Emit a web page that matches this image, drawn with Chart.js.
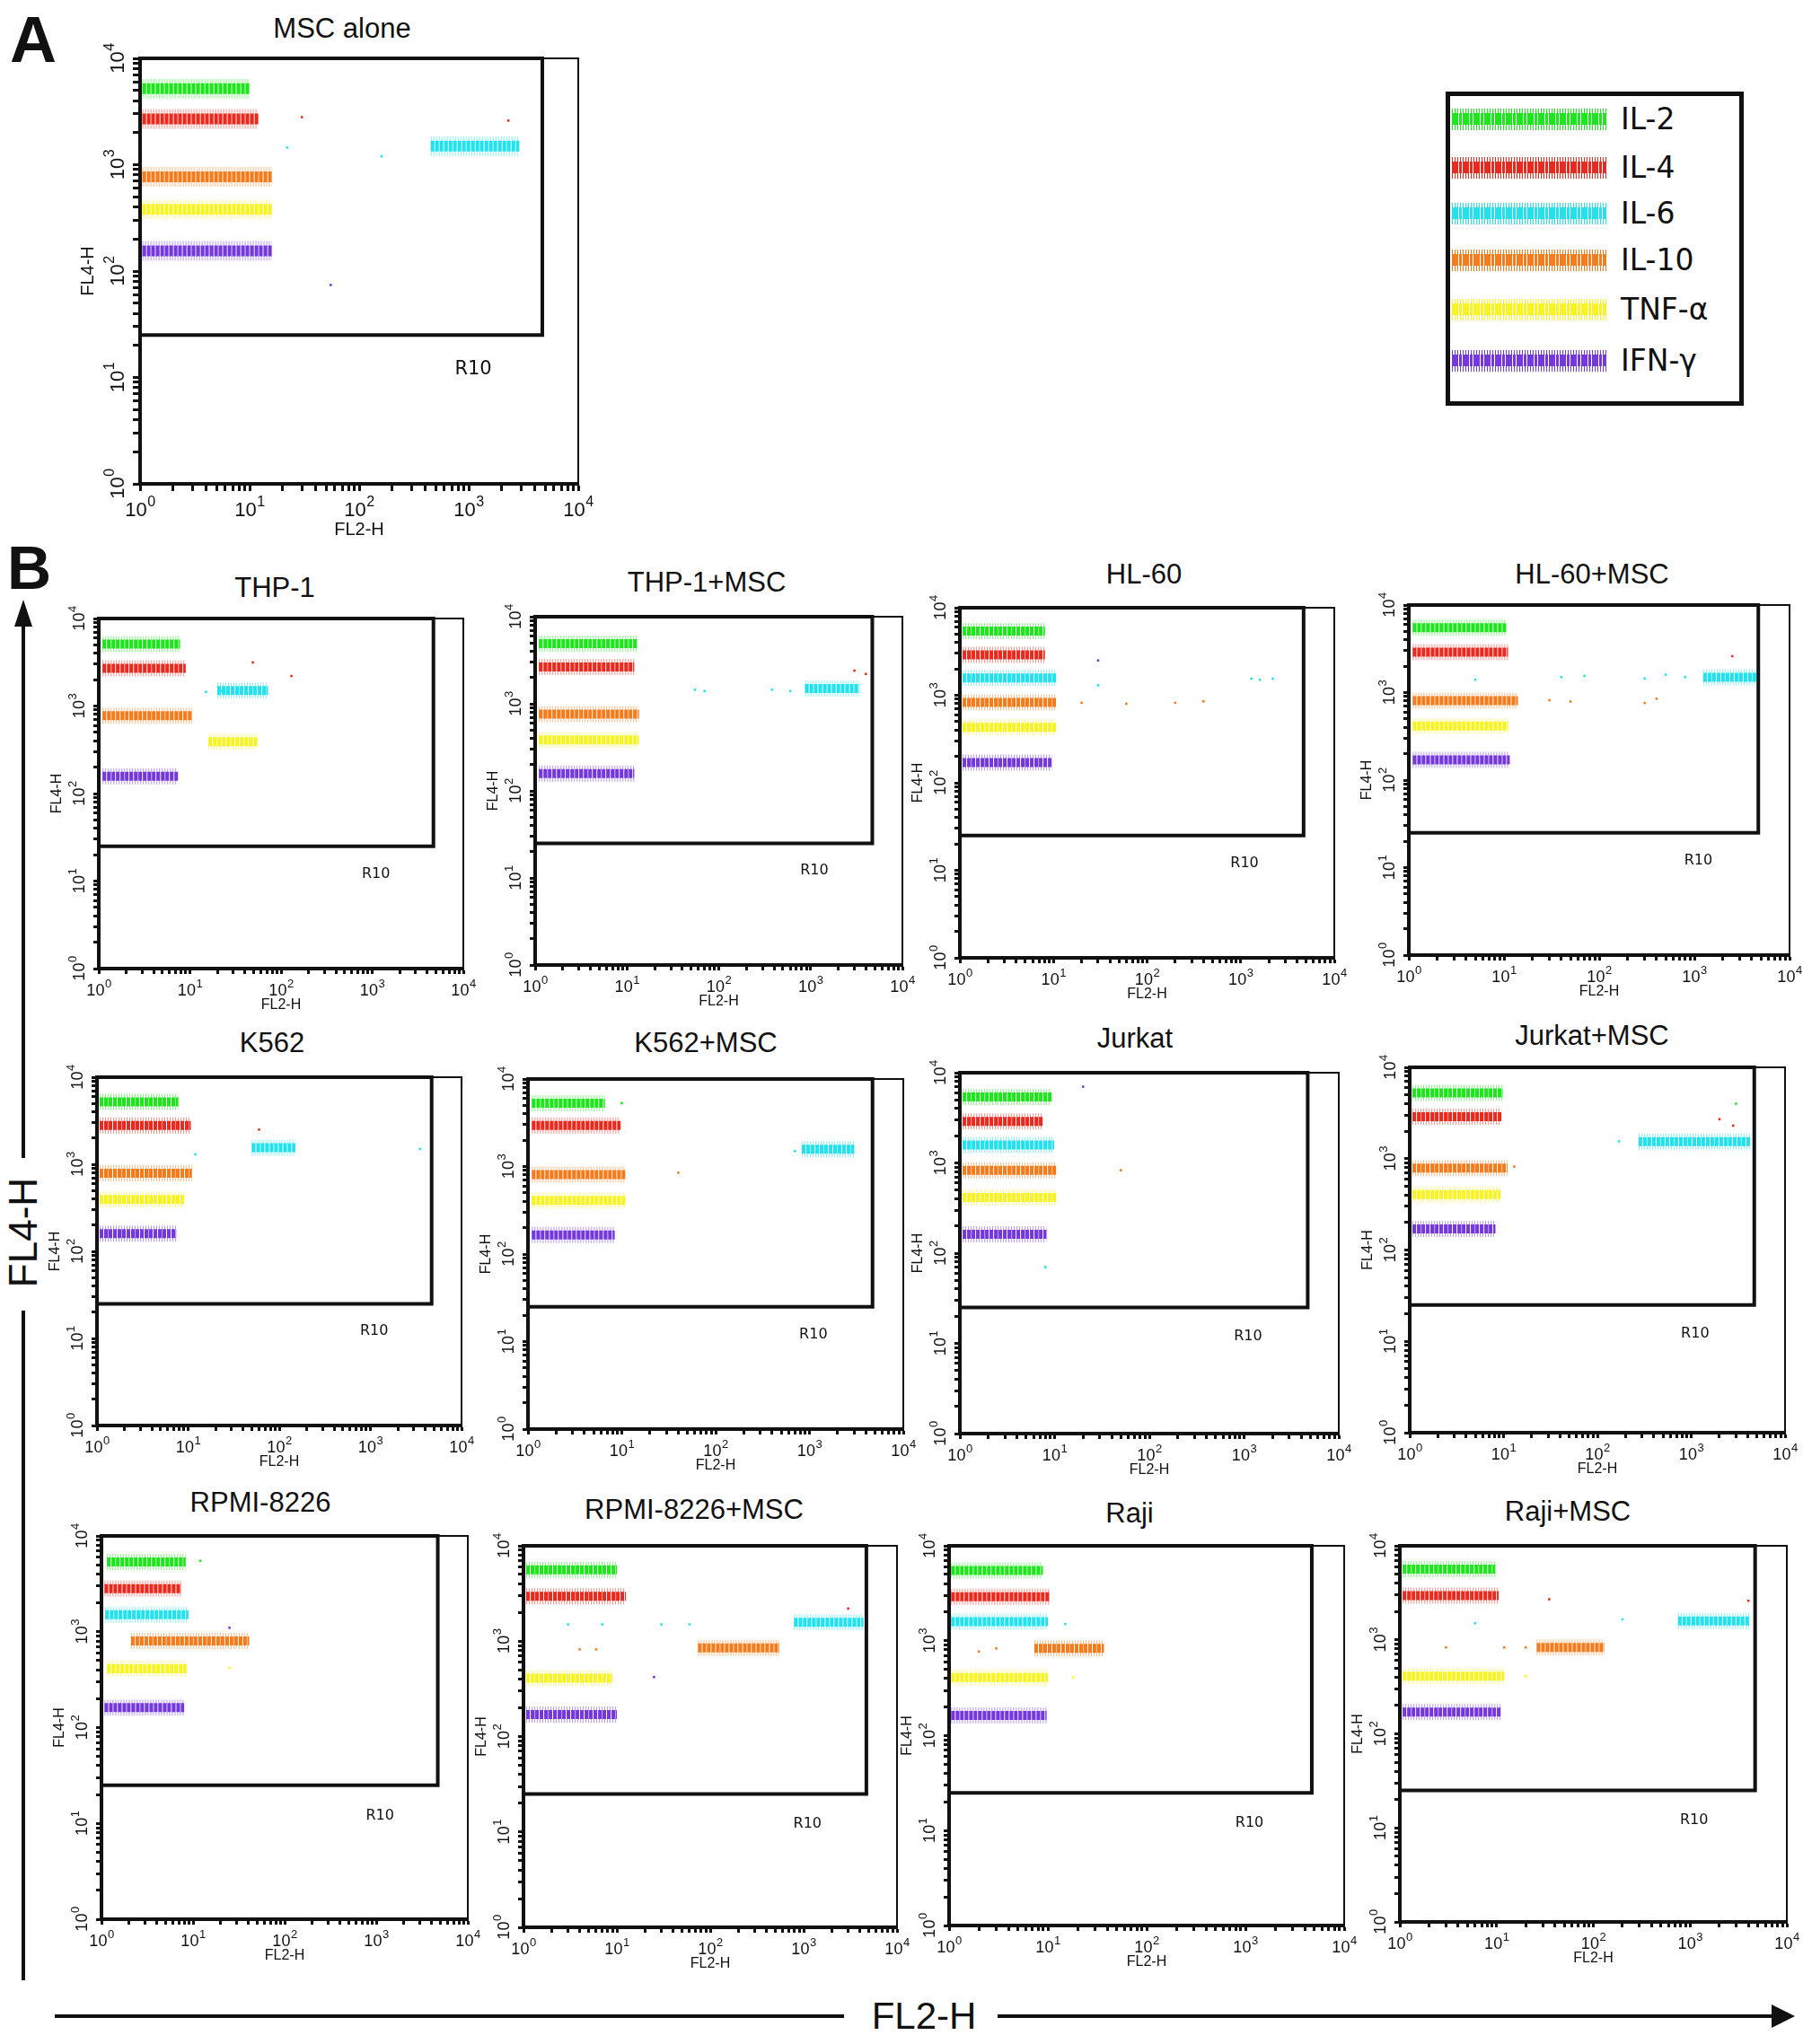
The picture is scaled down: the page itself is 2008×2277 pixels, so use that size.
<!DOCTYPE html>
<html>
<head>
<meta charset="utf-8">
<script src="https://cdn.jsdelivr.net/npm/chart.js@4.4.1/dist/chart.umd.min.js"></script>
<style>
body { margin:0; background:#fff; width:2008px; height:2277px; position:relative; overflow:hidden; font-family:"Liberation Sans", Arial, sans-serif; color:#111; }
canvas { position:absolute; }
.ttl { position:absolute; transform:translate(-50%,-50%); font-size:31px; white-space:nowrap; }
.big { position:absolute; font-weight:bold; font-size:72px; line-height:1; }
#legend { position:absolute; left:1610px; top:102px; width:322px; height:340px; border:5px solid #111; }
#legend .row { position:absolute; left:0; height:40px; width:320px; }
#legend .band { position:absolute; left:2px; top:8px; width:172px; height:24px; }
#legend .lab { position:absolute; left:190px; top:0; font-family:"DejaVu Sans", Verdana, sans-serif; font-size:33px; line-height:40px; }
</style>
</head>
<body>
<div class="big" style="left:11px;top:8px;">A</div>
<div class="big" style="left:8px;top:598px;font-size:68px;">B</div>
<div id="legend"></div>

<svg width="2008" height="2277" style="position:absolute;left:0;top:0;">
  <line x1="26" y1="692" x2="26" y2="1290" stroke="#111" stroke-width="4"/>
  <line x1="26" y1="1460" x2="26" y2="2206" stroke="#111" stroke-width="4"/>
  <polygon points="26,668 16,698 36,698" fill="#111"/>
  <line x1="61" y1="2246" x2="940" y2="2246" stroke="#111" stroke-width="4"/>
  <line x1="1111" y1="2246" x2="1978" y2="2246" stroke="#111" stroke-width="4"/>
  <polygon points="1999,2246 1973,2233 1973,2259" fill="#111"/>
</svg>
<div style="position:absolute;left:26px;top:1373px;transform:translate(-50%,-50%) rotate(-90deg);font-size:44px;white-space:nowrap;">FL4-H</div>
<div style="position:absolute;left:1029px;top:2246px;transform:translate(-50%,-50%);font-size:42px;white-space:nowrap;">FL2-H</div>

<script>
// cytokine beads and their colours
var cytokines = ['IL-2', 'IL-4', 'IL-6', 'IL-10', 'TNF-α', 'IFN-γ'];
var colors = ['#1ee61c', '#ea2a1e', '#22e2ee', '#f47c1c', '#f8f424', '#7438dc'];

// decade ticks of both log axes: 10 to these powers
var tickExponents = ['0', '1', '2', '3', '4'];
var axisMin = 1, axisMax = 10000;

// region R10 and where its name sits
var gateFL2 = [1, 4700];
var gateFL4 = [25, 10000];
var gateLabel = [1100, 12];

// clusters: [FL2-H from, FL2-H to, FL4-H level], order as cytokines
var mscAlone = [[1.05, 10, 5200], [1.05, 12, 2700], [450, 2900, 1500], [1.05, 16, 770], [1.05, 16, 380], [1.05, 16, 155]];
var thp1 = [[1.1, 7.8, 5100], [1.1, 9, 2700], [20, 72, 1500], [1.1, 10.6, 775], [16, 55, 390], [1.1, 7.4, 158]];
var thp1Msc = [[1.1, 13, 4900], [1.1, 12, 2650], [870, 3400, 1500], [1.1, 13.5, 760], [1.1, 13.5, 385], [1.1, 12, 158]];
var hl60 = [[1.07, 8.1, 5400], [1.07, 8.1, 2900], [1.07, 10.7, 1580], [1.07, 10.7, 830], [1.07, 10.7, 430], [1.07, 9.6, 170]];
var hl60Msc = [[1.1, 10.7, 5500], [1.1, 11, 2900], [1240, 4500, 1490], [1.1, 14, 810], [1.1, 11, 415], [1.1, 11.5, 170]];
var k562 = [[1.07, 7.8, 5200], [1.07, 10.7, 2800], [50, 150, 1550], [1.07, 11, 790], [1.07, 9, 395], [1.07, 7.4, 160]];
var k562Msc = [[1.1, 6.6, 5300], [1.1, 9.7, 2950], [830, 3000, 1580], [1.1, 10.9, 810], [1.1, 10.9, 410], [1.1, 8.4, 165]];
var jurkat = [[1.07, 9.3, 5400], [1.07, 7.6, 2880], [1.07, 9.9, 1580], [1.07, 10.6, 830], [1.07, 10.6, 415], [1.07, 8.2, 162]];
var jurkatMsc = [[1.07, 9.8, 5250], [1.07, 9.5, 2880], [275, 4250, 1540], [1.07, 11, 790], [1.07, 9.3, 405], [1.07, 8.2, 170]];
var rpmi = [[1.15, 8.3, 5350], [1.08, 7.4, 2820], [1.1, 8.9, 1510], [2.1, 41, 800], [1.15, 8.5, 410], [1.08, 8, 162]];
var rpmiMsc = [[1.07, 10, 5600], [1.07, 12.5, 2960], [790, 4370, 1580], [74, 550, 850], [1.07, 9, 410], [1.07, 10, 170]];
var raji = [[1.05, 8.9, 5500], [1.05, 10.5, 2900], [1.05, 10, 1590], [7.3, 37, 830], [1.05, 10, 410], [1.05, 9.7, 163]];
var rajiMsc = [[1.07, 9.7, 5650], [1.07, 10.5, 2960], [750, 4070, 1585], [26, 130, 830], [1.07, 12, 410], [1.07, 11, 170]];

// single stray events: [FL2-H, FL4-H, cytokine index]
var mscAloneStray = [[22, 1450, 2], [160, 1200, 2], [30, 2800, 1], [55, 74, 5], [2300, 2600, 1]];
var thp1Stray = [[49, 3150, 1], [130, 2200, 1], [15, 1450, 2], [22, 1500, 2]];
var thp1MscStray = [[55, 1450, 2], [70, 1400, 2], [380, 1450, 2], [600, 1400, 2], [3000, 2400, 1], [4000, 2200, 1]];
var hl60Stray = [[1300, 1550, 2], [1600, 1500, 2], [2200, 1550, 2], [30, 1300, 2], [20, 820, 3], [60, 800, 3], [200, 820, 3], [400, 850, 3], [30, 2500, 5]];
var hl60MscStray = [[5, 1400, 2], [40, 1500, 2], [70, 1550, 2], [300, 1450, 2], [500, 1600, 2], [800, 1500, 2], [30, 820, 3], [50, 790, 3], [300, 760, 3], [400, 850, 3], [2500, 2600, 1]];
var k562Stray = [[3500, 1500, 2], [12, 1300, 2], [60, 2500, 1]];
var k562MscStray = [[40, 850, 3], [700, 1500, 2], [10, 5300, 0]];
var jurkatStray = [[50, 830, 3], [20, 7000, 5], [8, 70, 2]];
var jurkatMscStray = [[170, 1550, 2], [3000, 4000, 0], [2000, 2700, 1], [2800, 2300, 1], [13, 820, 3]];
var rpmiStray = [[25, 1100, 5], [12, 5500, 0], [25, 420, 4]];
var rpmiMscStray = [[3, 1500, 2], [7, 1500, 2], [30, 1500, 2], [60, 1500, 2], [4, 820, 3], [6, 820, 3], [25, 420, 5], [3000, 2200, 1]];
var rajiStray = [[15, 1500, 2], [3, 830, 3], [2, 770, 3], [18, 410, 4]];
var rajiMscStray = [[35, 2700, 1], [200, 1650, 2], [6, 1500, 2], [3, 830, 3], [12, 830, 3], [20, 830, 3], [20, 410, 4], [4000, 2600, 1]];

// panel placement: plot box left, top, right, bottom and title centre
var panels = [
  { name: 'MSC alone', cl: mscAlone, st: mscAloneStray, box: [156, 65, 644, 539], t: [381, 32], big: true },
  { name: 'THP-1', cl: thp1, st: thp1Stray, box: [110, 689, 516, 1079], t: [306, 655] },
  { name: 'THP-1+MSC', cl: thp1Msc, st: thp1MscStray, box: [596, 687, 1005, 1075], t: [787, 649] },
  { name: 'HL-60', cl: hl60, st: hl60Stray, box: [1069, 677, 1486, 1067], t: [1274, 640] },
  { name: 'HL-60+MSC', cl: hl60Msc, st: hl60MscStray, box: [1569, 674, 1993, 1064], t: [1773, 640] },
  { name: 'K562', cl: k562, st: k562Stray, box: [108, 1200, 514, 1588], t: [303, 1162] },
  { name: 'K562+MSC', cl: k562Msc, st: k562MscStray, box: [588, 1202, 1006, 1592], t: [786, 1162] },
  { name: 'Jurkat', cl: jurkat, st: jurkatStray, box: [1069, 1195, 1491, 1597], t: [1264, 1157] },
  { name: 'Jurkat+MSC', cl: jurkatMsc, st: jurkatMscStray, box: [1570, 1189, 1988, 1596], t: [1773, 1154] },
  { name: 'RPMI-8226', cl: rpmi, st: rpmiStray, box: [113, 1711, 521, 2138], t: [290, 1674] },
  { name: 'RPMI-8226+MSC', cl: rpmiMsc, st: rpmiMscStray, box: [583, 1722, 999, 2147], t: [773, 1682] },
  { name: 'Raji', cl: raji, st: rajiStray, box: [1057, 1722, 1497, 2145], t: [1258, 1686] },
  { name: 'Raji+MSC', cl: rajiMsc, st: rajiMscStray, box: [1559, 1722, 1990, 2141], t: [1746, 1684] }
];

// legend
var legend = document.getElementById('legend');
var legendRows = [26, 80, 131, 183, 238, 295];
cytokines.forEach(function (name, i) {
  var row = document.createElement('div');
  row.className = 'row';
  row.style.top = (legendRows[i] - 20) + 'px';
  row.innerHTML = '<div class="band" style="background:repeating-linear-gradient(90deg,' + colors[i] + ' 0 3px,rgba(255,255,255,0) 3px 4px) center/100% 55% no-repeat,repeating-linear-gradient(90deg,' + colors[i] + ' 0 1px,rgba(255,255,255,0) 1px 3px)"></div><div class="lab">' + name + '</div>';
  legend.appendChild(row);
});

function alpha(hex, a) {
  var n = parseInt(hex.slice(1), 16);
  return 'rgba(' + (n >> 16) + ',' + ((n >> 8) & 255) + ',' + (n & 255) + ',' + a + ')';
}

function decadeIndex(v) {
  var e = Math.log10(v), r = Math.round(e);
  return Math.abs(e - r) < 1e-6 ? r : -1;
}

function dropHalfSteps(scale) {
  scale.ticks = scale.ticks.filter(function (t) {
    var m = t.value / Math.pow(10, Math.floor(Math.log10(t.value) + 1e-9));
    return Math.abs(m - 1.5) > 1e-6;
  });
}

// decade labels "10" with a raised power, placed at the scales' tick pixels
var decadePlugin = {
  id: 'decades',
  afterDraw: function (chart, args, o) {
    var c = chart.ctx, xs = chart.scales.x, ys = chart.scales.y, a = chart.chartArea;
    var base = o.size + 'px "Liberation Sans", Arial, sans-serif';
    var sup = Math.round(o.size * 0.72) + 'px "Liberation Sans", Arial, sans-serif';
    function label(e) {
      c.font = base;
      var w1 = c.measureText('10').width;
      c.font = sup;
      var w2 = c.measureText(tickExponents[e]).width;
      var x0 = -(w1 + w2) / 2;
      c.font = base;
      c.fillText('10', x0, 0);
      c.font = sup;
      c.fillText(tickExponents[e], x0 + w1 + 0.5, -o.size * 0.48);
    }
    c.save();
    c.fillStyle = '#111';
    c.textAlign = 'left';
    c.textBaseline = 'alphabetic';
    xs.ticks.forEach(function (t) {
      var e = decadeIndex(t.value);
      if (e < 0) return;
      c.save();
      c.translate(xs.getPixelForValue(t.value), a.bottom + o.xGap);
      label(e);
      c.restore();
    });
    ys.ticks.forEach(function (t) {
      var e = decadeIndex(t.value);
      if (e < 0) return;
      c.save();
      c.translate(a.left - o.yGap, ys.getPixelForValue(t.value));
      c.rotate(-Math.PI / 2);
      label(e);
      c.restore();
    });
    c.restore();
  }
};

var r10Plugin = {
  id: 'r10',
  afterDatasetsDraw: function (chart, args, opts) {
    var c = chart.ctx;
    c.save();
    c.font = opts.size + 'px "DejaVu Sans", Verdana, sans-serif';
    c.fillStyle = '#111';
    c.textAlign = 'center';
    c.textBaseline = 'middle';
    c.fillText('R10', chart.scales.x.getPixelForValue(gateLabel[0]), chart.scales.y.getPixelForValue(gateLabel[1]));
    c.restore();
  }
};

panels.forEach(function (p) {
  var big = !!p.big;
  var L = big ? 70 : 56, B = big ? 63 : 50, T = 26, R = 26;
  var w = p.box[2] - p.box[0], h = p.box[3] - p.box[1];

  var tt = document.createElement('div');
  tt.className = 'ttl';
  tt.textContent = p.name;
  tt.style.left = p.t[0] + 'px';
  tt.style.top = p.t[1] + 'px';
  document.body.appendChild(tt);

  var cv = document.createElement('canvas');
  cv.width = w + L + R;
  cv.height = h + T + B;
  cv.style.left = (p.box[0] - L) + 'px';
  cv.style.top = (p.box[1] - T) + 'px';
  cv.style.width = cv.width + 'px';
  cv.style.height = cv.height + 'px';
  document.body.appendChild(cv);

  var datasets = [];
  p.cl.forEach(function (c, i) {
    var pts = [{ x: c[0], y: c[2] }, { x: c[1], y: c[2] }];
    datasets.push({ data: pts, showLine: true, pointRadius: 0, borderColor: alpha(colors[i], 0.5), borderWidth: big ? 22 : 18, borderDash: [1, 2] });
    datasets.push({ data: pts, showLine: true, pointRadius: 0, borderColor: colors[i], borderWidth: big ? 12 : 10, borderDash: [4, 1] });
  });
  p.st.forEach(function (s) {
    datasets.push({ data: [{ x: s[0], y: s[1] }], pointRadius: 1.8, pointStyle: 'rect', pointBorderWidth: 0, backgroundColor: colors[s[2]], borderColor: colors[s[2]] });
  });
  datasets.push({
    data: [{ x: gateFL2[0], y: gateFL4[1] }, { x: gateFL2[1], y: gateFL4[1] }, { x: gateFL2[1], y: gateFL4[0] }, { x: gateFL2[0], y: gateFL4[0] }, { x: gateFL2[0], y: gateFL4[1] }],
    showLine: true, pointRadius: 0, borderColor: '#111', borderWidth: 4, clip: false
  });

  var titleFont = { family: '"Liberation Sans", Arial, sans-serif', size: big ? 20 : 16 };
  var tickLen = big ? 8 : 6;

  new Chart(cv, {
    type: 'scatter',
    data: { datasets: datasets },
    plugins: [r10Plugin, decadePlugin],
    options: {
      responsive: false,
      animation: false,
      events: [],
      layout: { padding: { top: T, right: R, left: 0, bottom: 0 } },
      plugins: {
        legend: { display: false }, tooltip: { enabled: false },
        r10: { size: big ? 21 : 16 },
        decades: { size: big ? 22 : 18, xGap: big ? 36 : 30, yGap: big ? 18 : 16 }
      },
      scales: {
        x: {
          type: 'logarithmic', position: 'bottom', min: axisMin, max: axisMax,
          afterBuildTicks: dropHalfSteps,
          afterFit: function (s) { s.height = B; },
          ticks: { autoSkip: false, maxRotation: 0, color: '#111', callback: function () { return ''; } },
          grid: { display: true, drawOnChartArea: false, drawTicks: true, tickLength: tickLen, tickWidth: 3, tickColor: '#111' },
          border: { display: true, color: '#111', width: 4 },
          title: { display: true, text: 'FL2-H', color: '#111', font: titleFont, padding: 0 }
        },
        y: {
          type: 'logarithmic', position: 'left', min: axisMin, max: axisMax,
          afterBuildTicks: dropHalfSteps,
          afterFit: function (s) { s.width = L; },
          ticks: { autoSkip: false, color: '#111', callback: function () { return ''; } },
          grid: { display: true, drawOnChartArea: false, drawTicks: true, tickLength: tickLen, tickWidth: 3, tickColor: '#111' },
          border: { display: true, color: '#111', width: 4 },
          title: { display: true, text: 'FL4-H', color: '#111', font: titleFont, padding: 0 }
        },
        xTop: {
          type: 'linear', position: 'top', min: 0, max: 1,
          afterFit: function (s) { s.height = 0; },
          ticks: { display: false }, grid: { display: false },
          border: { display: true, color: '#111', width: 2 }
        },
        yRight: {
          type: 'linear', position: 'right', min: 0, max: 1,
          afterFit: function (s) { s.width = 0; },
          ticks: { display: false }, grid: { display: false },
          border: { display: true, color: '#111', width: 2 }
        }
      }
    }
  });
});
</script>
</body>
</html>
